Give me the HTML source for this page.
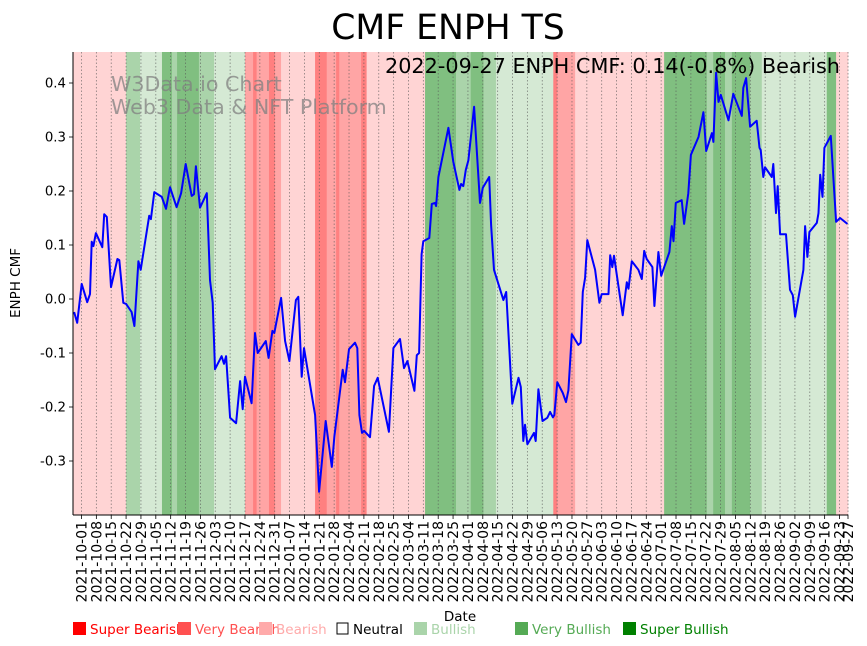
<!DOCTYPE html>
<html><head><meta charset="utf-8"><style>
body{margin:0;background:#fff;}
svg{display:block;font-family:"DejaVu Sans","Liberation Sans",sans-serif;}
</style></head><body>
<svg id="chart" width="867" height="646" viewBox="0 0 867 646" xmlns="http://www.w3.org/2000/svg">
<text x="448" y="39" font-size="34.6" text-anchor="middle" fill="#000">CMF ENPH TS</text>
<g id="bands"></g>
<g id="grid"></g>
<g fill="#808080" fill-opacity="0.75" font-size="20.6">
<text x="111" y="91">W3Data.io Chart</text>
<text x="111" y="114">Web3 Data &amp; NFT Platform</text>
</g>
<polyline id="line" fill="none" stroke="#0000ff" stroke-width="2" stroke-linejoin="round"/>
<text x="840" y="73" font-size="20.8" text-anchor="end" fill="#000">2022-09-27 ENPH CMF: 0.14(-0.8%) Bearish</text>
<g id="axes"></g>
<text x="20" y="283" font-size="13.5" text-anchor="middle" transform="rotate(-90 20 283)">ENPH CMF</text>
<text x="460" y="621" font-size="13.5" text-anchor="middle">Date</text>
<g id="legend" font-size="13.5"></g>
</svg>
<script>
// day offsets from 2021-09-27
const days=[0.5,2.0,4.1,6.7,8.0,8.8,9.6,10.8,13.8,14.7,15.9,17.9,20.9,21.8,23.7,25.0,27.6,28.9,30.8,31.9,35.9,36.7,38.3,41.8,43.8,45.7,48.8,50.9,53.1,55.9,57.0,57.9,59.8,63.0,64.5,65.8,66.9,70.0,71.1,72.1,74.0,76.8,78.7,79.9,81.0,84.1,85.7,87.0,90.8,92.1,93.9,94.8,98.0,99.9,101.9,105.0,106.1,107.7,108.8,114.0,115.9,119.0,121.9,123.1,127.0,128.1,130.0,132.8,133.9,134.9,136.1,137.1,139.9,141.8,143.5,148.8,150.9,154.0,155.9,157.5,160.8,161.9,163.0,164.2,165.0,167.8,169.0,170.5,171.0,172.1,176.8,179.1,182.0,182.8,183.8,185.0,186.2,188.9,191.7,193.0,196.0,196.9,198.3,202.7,204.0,206.9,209.8,210.9,212.1,212.9,214.0,217.1,217.9,219.2,221.1,223.4,224.7,226.0,226.7,228.1,230.7,232.2,233.3,234.9,238.0,239.1,240.1,241.2,242.2,245.9,247.9,249.0,252.2,253.0,254.0,254.8,258.9,260.8,261.6,263.2,266.3,267.9,269.0,270.2,272.9,273.8,275.7,277.0,280.9,282.0,282.8,283.9,286.7,287.8,289.8,291.0,294.6,296.9,298.2,300.9,301.6,302.9,304.0,305.1,308.7,311.0,315.0,315.7,317.0,318.9,322.0,323.3,323.9,325.1,325.9,329.1,329.8,331.1,331.9,333.0,335.8,337.7,339.0,340.1,344.0,344.8,345.9,346.8,350.3,351.1,351.9,353.0,353.9,356.9,359.4,361.3,364.7];
const cmf=[-0.024,-0.044,0.028,-0.006,0.009,0.106,0.098,0.122,0.096,0.157,0.152,0.022,0.074,0.072,-0.007,-0.009,-0.024,-0.050,0.070,0.054,0.154,0.148,0.198,0.189,0.167,0.207,0.170,0.196,0.250,0.191,0.194,0.246,0.169,0.196,0.035,-0.007,-0.130,-0.106,-0.120,-0.106,-0.220,-0.230,-0.152,-0.204,-0.144,-0.193,-0.063,-0.100,-0.078,-0.109,-0.059,-0.063,0.002,-0.078,-0.115,-0.002,0.004,-0.144,-0.091,-0.215,-0.357,-0.226,-0.311,-0.254,-0.131,-0.154,-0.093,-0.081,-0.091,-0.215,-0.248,-0.244,-0.256,-0.161,-0.146,-0.246,-0.091,-0.074,-0.128,-0.115,-0.170,-0.104,-0.100,0.083,0.107,0.113,0.176,0.178,0.172,0.226,0.317,0.254,0.202,0.213,0.209,0.239,0.257,0.356,0.178,0.206,0.226,0.137,0.054,-0.002,0.013,-0.194,-0.146,-0.163,-0.263,-0.233,-0.269,-0.248,-0.263,-0.167,-0.226,-0.220,-0.209,-0.219,-0.215,-0.154,-0.174,-0.191,-0.169,-0.065,-0.085,-0.081,0.013,0.039,0.109,0.054,-0.007,0.009,0.009,0.081,0.059,0.080,-0.030,0.031,0.019,0.070,0.054,0.037,0.089,0.074,0.059,-0.013,0.087,0.043,0.087,0.135,0.107,0.178,0.183,0.139,0.196,0.267,0.300,0.346,0.274,0.307,0.291,0.419,0.365,0.378,0.331,0.380,0.339,0.391,0.409,0.319,0.330,0.280,0.276,0.226,0.244,0.226,0.250,0.159,0.209,0.120,0.120,0.017,0.007,-0.033,0.054,0.135,0.078,0.124,0.141,0.159,0.230,0.189,0.280,0.302,0.143,0.150,0.139];
const bandStart=[0,25,31.6,41.9,46.6,49,59.3,66.4,81,84.8,86.5,92.3,95.1,98,114,119.5,123.9,125.4,135.7,138.3,165.8,180.4,187.3,193.3,199.2,226.2,228.1,236.5,278.4,298.5,301.5,307.1,310.3,318.9,324.4,355,359.4];
const bandEnd=[25,31.6,41.9,46.6,49,59.3,66.4,81,84.8,86.5,92.3,95.1,98,114,119.5,123.9,125.4,135.7,138.3,165.8,180.4,187.3,193.3,199.2,226.2,228.1,236.5,278.4,298.5,301.5,307.1,310.3,318.9,324.4,355,359.4,365];
const bandLevel=[-1,2,1,3,2,3,2,1,-2,-3,-2,-3,-2,-1,-3,-2,-3,-2,-3,-1,3,2,3,2,1,-3,-2,-1,3,2,3,2,3,2,1,3,-1];
const yTicks=[0.4,0.3,0.2,0.1,0.0,-0.1,-0.2,-0.3];
const legendLabels=["Super Bearish","Very Bearish","Bearish","Neutral","Bullish","Very Bullish","Super Bullish"];

const NS="http://www.w3.org/2000/svg";
const L=73,R=848,T=52,B=515;
const x=d=>L+d*(R-L)/365;
const y=v=>299-v*540;
function mk(tag,attrs,parent){const e=document.createElementNS(NS,tag);for(const k in attrs)e.setAttribute(k,attrs[k]);parent.appendChild(e);return e;}
const bandColors={"-3":"#ff8080","-2":"#ffa5a5","-1":"#ffd4d4","1":"#d5e9d4","2":"#aad4aa","3":"#80bf80"};
const bandsG=document.getElementById('bands');
bandStart.forEach((s,i)=>{
  const r=mk('rect',{x:x(s),y:T,width:x(bandEnd[i])-x(s)+0.3,height:B-T,fill:bandColors[bandLevel[i]]},bandsG);
  
  
});
const base=new Date(Date.UTC(2021,8,27));
const tickDays=[];for(let d=4;d<=361;d+=7)tickDays.push(d);tickDays.push(365);
const fmt=d=>{const t=new Date(base.getTime()+d*86400000);return t.toISOString().slice(0,10);};
const gridG=document.getElementById('grid'),axesG=document.getElementById('axes');
tickDays.forEach(d=>{
  const gl=mk('line',{x1:x(d),x2:x(d),y1:T,y2:B,stroke:"#555",'stroke-width':0.8,'stroke-dasharray':"1.5,2",'stroke-opacity':0.7},gridG);
  
  
  const tk=mk('line',{x1:x(d),x2:x(d),y1:B,y2:B+4,stroke:"#000",'stroke-width':0.8},axesG);
  
  
  const tx=x(d)+5;
  const t=mk('text',{x:tx,y:B+6,'font-size':14,'text-anchor':'end',transform:`rotate(-90 ${tx} ${B+6})`},axesG);
  t.textContent=fmt(d);
  
  
});
yTicks.forEach(v=>{
  const tk=mk('line',{x1:L-4,x2:L,y1:y(v),y2:y(v),stroke:"#000",'stroke-width':0.8},axesG);
  
  
  const t=mk('text',{x:L-7,y:y(v)+4.5,'font-size':13.3,'text-anchor':'end'},axesG);
  t.textContent=v.toFixed(1);
  
  
});
const ls=mk('line',{x1:L,x2:L,y1:T,y2:B,stroke:"#000",'stroke-width':1},axesG);


const bs=mk('line',{x1:L,x2:R,y1:B,y2:B,stroke:"#000",'stroke-width':1},axesG);


document.getElementById('line').setAttribute('points',days.map((d,i)=>x(d).toFixed(1)+','+y(cmf[i]).toFixed(1)).join(' '));
const legG=document.getElementById('legend');
const legX=[73,178,259,336,414,515,623];
const legColors=["#ff0000","#ff5050","#ffaaaa","#000000","#aad4aa","#55aa55","#008000"];
legendLabels.forEach((lab,i)=>{
  const g=mk('g',{},legG);
  
  
  if(i===3) mk('rect',{x:legX[i]+1,y:623,width:11,height:11,fill:"none",stroke:"#000",'stroke-width':1},g);
  else mk('rect',{x:legX[i],y:622,width:13,height:13,fill:legColors[i]},g);
  const t=mk('text',{x:legX[i]+17,y:634,fill:legColors[i]},g);
  t.textContent=lab;
});
</script>
</body></html>
